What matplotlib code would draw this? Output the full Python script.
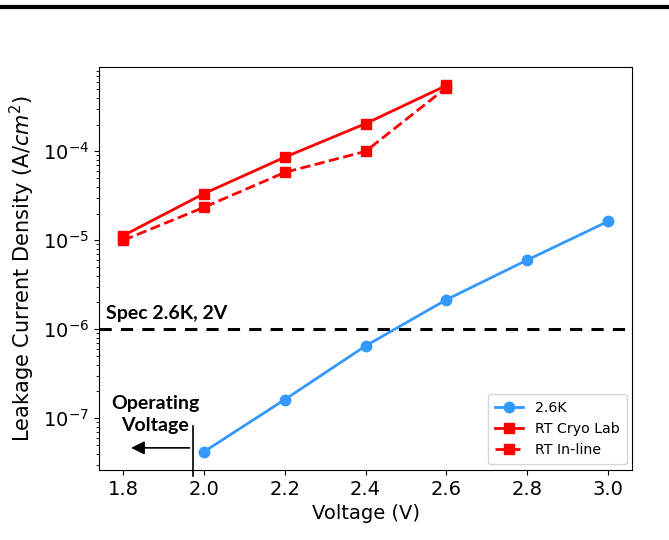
import matplotlib
matplotlib.use("Agg")
import matplotlib.pyplot as plt
from matplotlib.lines import Line2D

voltage_cold = [2.0, 2.2, 2.4, 2.6, 2.8, 3.0]
leak_cold = [4.2e-8, 1.62e-7, 6.5e-7, 2.15e-6, 6.0e-6, 1.63e-5]
voltage_rt = [1.8, 2.0, 2.2, 2.4, 2.6]
leak_rt_cryo = [1.13e-5, 3.35e-5, 8.6e-5, 2.05e-4, 5.5e-4]
leak_rt_inline = [1.0e-5, 2.35e-5, 5.8e-5, 1.0e-4, 5.2e-4]
spec_value = 1.0e-6

fig = plt.figure(figsize=(6.69, 5.4), dpi=100)
ax = fig.add_axes([0.148, 0.1296, 0.797, 0.746])

ax.plot(voltage_cold, leak_cold, '-o', color='#3399ff', lw=2, ms=7.5, label='2.6K')
ax.plot(voltage_rt, leak_rt_cryo, '-s', color='red', lw=2, ms=7.5, label='RT Cryo Lab')
ax.plot(voltage_rt, leak_rt_inline, '--s', color='red', lw=2, ms=7.5, label='RT In-line')
ax.set_yscale('log')
ax.axhline(spec_value, color='black', ls='--', lw=2.2, dashes=(4, 3))

ax.set_xticks([1.8, 2.0, 2.2, 2.4, 2.6, 2.8, 3.0])
ax.tick_params(labelsize=14)
ax.set_xlabel('Voltage (V)', fontsize=14)
ax.set_ylabel('Leakage Current Density (A/$cm^2$)', fontsize=15)

ax.legend(loc='lower right', fontsize=10.2, borderpad=0.5, borderaxespad=0.4)

bold = dict(family='Lato', fontweight='bold', fontsize=14)
ax.text(0.013, 0.375, 'Spec 2.6K, 2V', transform=ax.transAxes, **bold)
ax.text(0.105, 0.138, 'Operating\nVoltage', transform=ax.transAxes, ha='center',
        va='center', linespacing=1.3, **bold)
ax.annotate('', xy=(0.055, 0.055), xytext=(0.175, 0.055), xycoords='axes fraction',
            arrowprops=dict(arrowstyle='-|>', color='black', lw=1.2, mutation_scale=20))
ax.add_line(Line2D([0.177, 0.177], [0.11, -0.015], transform=ax.transAxes,
                   color='black', lw=1.2, clip_on=False))

fig.add_artist(Line2D([0, 1], [0.987, 0.987], transform=fig.transFigure,
                      color='black', lw=3))

fig.savefig('out.png', dpi=100)
